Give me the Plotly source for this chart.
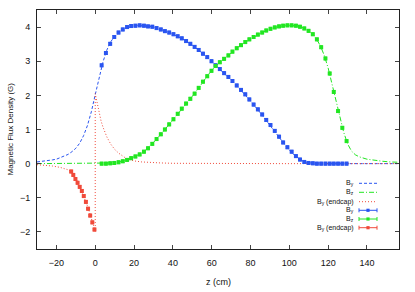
import plotly.graph_objects as go

# ---------------- data ----------------
# measured positions (cm)
z_meas = [3.3, 5.5, 7.7, 9.8, 12.0, 14.2, 16.4, 18.5, 20.7, 22.9, 25.1, 27.2, 29.4, 31.6,
          33.8, 35.9, 38.1, 40.3, 42.5, 44.6, 46.8, 49.0, 51.2, 53.3, 55.5, 57.7, 59.9,
          62.0, 64.2, 66.4, 68.6, 70.7, 72.9, 75.1, 77.3, 79.4, 81.6, 83.8, 86.0, 88.1,
          90.3, 92.5, 94.7, 96.8, 99.0, 101.2, 103.4, 105.5, 107.7, 109.9, 112.1, 114.2,
          116.4, 118.6, 120.8, 122.9, 125.1, 127.3, 129.5]
by_meas = [2.88, 3.24, 3.51, 3.71, 3.84, 3.93, 4.00, 4.03, 4.04, 4.05, 4.04, 4.02, 4.01, 3.97,
           3.93, 3.88, 3.84, 3.79, 3.73, 3.67, 3.59, 3.51, 3.42, 3.33, 3.22, 3.12, 3.00,
           2.88, 2.77, 2.65, 2.54, 2.42, 2.29, 2.16, 2.03, 1.88, 1.73, 1.59, 1.44, 1.28,
           1.13, 0.96, 0.79, 0.62, 0.48, 0.35, 0.22, 0.12, 0.05, 0.02, 0.01, 0.0,
           0.0, 0.0, 0.0, 0.0, 0.0, 0.0, 0.0]
bz_meas = [0.0, 0.0, 0.01, 0.02, 0.04, 0.07, 0.11, 0.16, 0.21, 0.27, 0.35, 0.45, 0.58, 0.72,
           0.86, 1.00, 1.15, 1.30, 1.46, 1.61, 1.76, 1.90, 2.05, 2.22, 2.40, 2.56, 2.72,
           2.86, 2.97, 3.07, 3.17, 3.28, 3.38, 3.47, 3.56, 3.64, 3.71, 3.78, 3.84, 3.90,
           3.95, 3.99, 4.02, 4.04, 4.05, 4.05, 4.04, 4.01, 3.96, 3.89, 3.79, 3.64,
           3.41, 3.08, 2.64, 2.10, 1.54, 1.05, 0.66]
z_endcap_meas = [-12.4, -11.3, -10.2, -9.1, -8.0, -6.9, -5.9, -4.8, -3.7, -2.6, -1.5, -0.4]
by_endcap_meas = [-0.23, -0.33, -0.45, -0.56, -0.68, -0.80, -0.95, -1.12, -1.32, -1.52, -1.72, -1.93]

# simulated curves
z_sim = [-30, -28, -26, -24, -22, -20, -18, -16, -14, -12, -10, -8, -6, -4, -2, 0, 2, 4, 6, 8,
         10, 12, 14, 16, 18, 20, 22, 24, 26, 28, 30, 34, 38, 42, 46, 50, 54, 58, 62, 66, 70,
         74, 78, 82, 86, 90, 94, 98, 102, 104, 106, 108, 110, 112, 114, 116, 118, 120, 122,
         124, 126, 128, 130, 132, 134, 136, 140, 144, 148, 152, 156.5]
by_sim = [0.05, 0.06, 0.07, 0.09, 0.11, 0.13, 0.17, 0.21, 0.27, 0.35, 0.45, 0.60, 0.82, 1.12,
          1.52, 2.02, 2.52, 2.98, 3.33, 3.57, 3.73, 3.84, 3.93, 3.99, 4.02, 4.04, 4.05, 4.05,
          4.03, 4.02, 4.00, 3.93, 3.84, 3.74, 3.62, 3.47, 3.29, 3.10, 2.88, 2.67, 2.45, 2.22,
          1.97, 1.70, 1.42, 1.13, 0.82, 0.53, 0.28, 0.18, 0.10, 0.05, 0.02, 0.01, 0.0, 0.0,
          0.0, 0.0, 0.0, 0.0, 0.0, 0.0, 0.0, 0.0, 0.0, 0.0, 0.0, 0.0, 0.0, 0.0, 0.0]
bz_sim = [0.0, 0.0, 0.0, 0.0, 0.0, 0.0, 0.0, 0.0, 0.0, 0.0, 0.0, 0.0, 0.0, 0.0, 0.0, 0.0, 0.0,
          0.0, 0.0, 0.01, 0.02, 0.04, 0.07, 0.10, 0.15, 0.20, 0.25, 0.31, 0.40, 0.50, 0.62,
          0.87, 1.14, 1.43, 1.71, 1.97, 2.27, 2.59, 2.86, 3.05, 3.25, 3.43, 3.58, 3.72, 3.84,
          3.94, 4.01, 4.05, 4.05, 4.04, 4.01, 3.95, 3.88, 3.79, 3.65, 3.45, 3.17, 2.80, 2.33,
          1.82, 1.33, 0.92, 0.58, 0.37, 0.26, 0.20, 0.13, 0.09, 0.07, 0.05, 0.04]
z_endcap_sim = [-30, -26, -22, -18, -16, -14, -12, -10, -8, -6, -4, -2, -1, 0, 0, 1, 2, 3, 4,
                5, 6, 8, 10, 12, 14, 16, 18, 20, 24, 28, 34, 40, 60, 80, 100, 120, 140, 156.5]
by_endcap_sim = [-0.03, -0.04, -0.07, -0.11, -0.14, -0.18, -0.26, -0.43, -0.67, -0.93, -1.24,
                 -1.60, -1.80, -1.98, 2.05, 1.75, 1.48, 1.25, 1.07, 0.92, 0.78, 0.57, 0.42,
                 0.31, 0.22, 0.15, 0.11, 0.08, 0.05, 0.03, 0.02, 0.01, 0.0, 0.0, 0.0, 0.0,
                 0.0, 0.0]

x_ticks = [-20, 0, 20, 40, 60, 80, 100, 120, 140]
y_ticks = [-2, -1, 0, 1, 2, 3, 4]

BLUE = "#2a55f0"
GREEN = "#22e622"
RED = "#f04a3a"
FONT = "Liberation Sans, Arial, sans-serif"

W, H = 415, 292
L, R, T, B = 37, 16, 10, 43
PW, PH = W - L - R, H - T - B


def px(x):
    return (x - L) / PW


def py(y):
    return (H - B - y) / PH


fig = go.Figure()

fig.add_trace(go.Scatter(x=z_sim, y=by_sim, mode="lines",
                         line=dict(color=BLUE, width=1, dash="3px,2px"), showlegend=False))
fig.add_trace(go.Scatter(x=z_sim, y=bz_sim, mode="lines",
                         line=dict(color=GREEN, width=1, dash="5px,2px,1px,2px"), showlegend=False))
fig.add_trace(go.Scatter(x=z_endcap_sim, y=by_endcap_sim, mode="lines",
                         line=dict(color=RED, width=1, dash="1px,2px"), showlegend=False))

for zz, bb, col in [(z_meas, by_meas, BLUE), (z_meas, bz_meas, GREEN),
                    (z_endcap_meas, by_endcap_meas, RED)]:
    fig.add_trace(go.Scatter(x=zz, y=bb, mode="markers",
                             marker=dict(symbol="square", size=4, color=col, line=dict(width=0)),
                             error_y=dict(type="constant", value=0.04, color=col,
                                          thickness=1, width=1.5),
                             showlegend=False))

# ------------- manual legend (gnuplot style) -------------
rows = [183.3, 192.3, 201.7, 210.3, 219.0, 227.7]
labels = ["B<sub>y</sub>", "B<sub>z</sub>", "B<sub>y</sub> (endcap)",
          "B<sub>y</sub>", "B<sub>z</sub>", "B<sub>y</sub> (endcap)"]
styles = [(BLUE, "3px,2px"), (GREEN, "5px,2px,1px,2px"), (RED, "1px,2px"),
          (BLUE, None), (GREEN, None), (RED, None)]
x0, x1, xt = 359, 377, 356
shapes = []
annotations = []
for yrow, lab, (col, dash) in zip(rows, labels, styles):
    annotations.append(dict(x=px(xt), y=py(yrow), xref="paper", yref="paper", text=lab,
                            showarrow=False, xanchor="right", yanchor="middle",
                            font=dict(family=FONT, size=7, color="#111")))
    if dash:
        shapes.append(dict(type="line", xref="paper", yref="paper", x0=px(x0), x1=px(x1),
                           y0=py(yrow), y1=py(yrow), line=dict(color=col, width=1, dash=dash)))
    else:
        shapes.append(dict(type="line", xref="paper", yref="paper", x0=px(x0), x1=px(x1),
                           y0=py(yrow), y1=py(yrow), line=dict(color=col, width=1)))
        for xe in (x0, x1):
            shapes.append(dict(type="line", xref="paper", yref="paper", x0=px(xe), x1=px(xe),
                               y0=py(yrow - 2), y1=py(yrow + 2), line=dict(color=col, width=1)))
        xm = (x0 + x1) / 2
        shapes.append(dict(type="rect", xref="paper", yref="paper", x0=px(xm - 1.6),
                           x1=px(xm + 1.6), y0=py(yrow - 1.6), y1=py(yrow + 1.6),
                           fillcolor=col, line=dict(width=0)))

annotations.append(dict(x=0.5, y=py(281.7), xref="paper", yref="paper", text="z (cm)",
                        showarrow=False, xanchor="center", yanchor="middle",
                        font=dict(family=FONT, size=9, color="#111")))
annotations.append(dict(x=px(10), y=0.5, xref="paper", yref="paper",
                        text="Magnetic Flux Density (G)", textangle=-90,
                        showarrow=False, xanchor="center", yanchor="middle",
                        font=dict(family=FONT, size=8, color="#111")))

axis_common = dict(showgrid=False, zeroline=False, showline=True, linecolor="#222",
                   linewidth=1, mirror="allticks", ticks="inside", ticklen=4, tickwidth=1,
                   tickcolor="#444", tickfont=dict(family=FONT, size=9, color="#111"))

fig.update_layout(
    width=W, height=H,
    margin=dict(l=L, r=R, t=T, b=B),
    paper_bgcolor="white", plot_bgcolor="white",
    xaxis=dict(range=[-30, 156.5], tickmode="array", tickvals=x_ticks,
               ticklabelstandoff=5, **axis_common),
    yaxis=dict(range=[-2.5, 4.5], tickmode="array", tickvals=y_ticks,
               ticklabelstandoff=4, **axis_common),
    shapes=shapes, annotations=annotations, showlegend=False,
)

fig.write_html("out.html", config={"displayModeBar": False},
               post_script="document.body.style.margin='0';document.body.style.padding='0';")
